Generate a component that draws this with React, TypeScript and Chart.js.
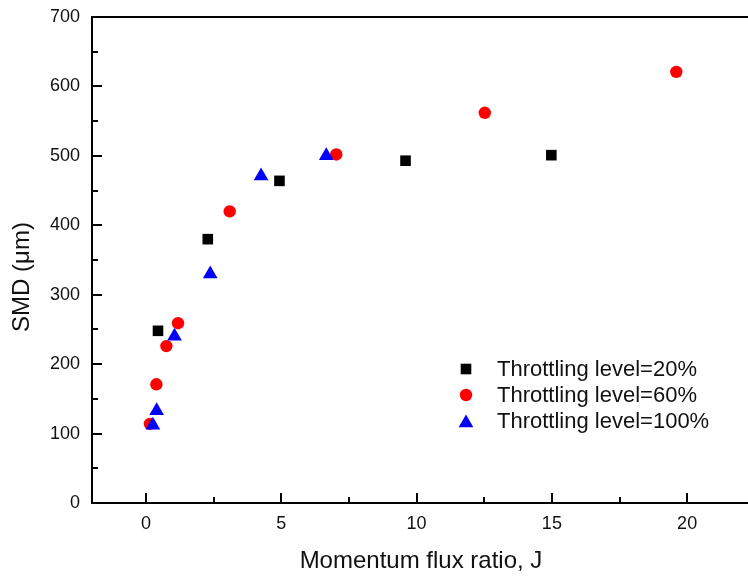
import React, { useEffect, useRef } from 'react';
import { Chart, registerables } from 'chart.js';

Chart.register(...registerables);

const FONT = "'Liberation Sans', Arial, Helvetica, sans-serif";

const xTickValues = [0, 5, 10, 15, 20];
const yTickValues = [0, 100, 200, 300, 400, 500, 600, 700];
const xTitle = 'Momentum flux ratio, J';
const yTitle = 'SMD (\u03bcm)';
const seriesLabels = ['Throttling level=20%', 'Throttling level=60%', 'Throttling level=100%'];

const j20 = [0.44, 2.28, 4.93, 9.59, 14.98];
const smd20 = [248, 380, 464, 493, 501];

const j60 = [0.14, 0.38, 0.75, 1.18, 3.09, 7.03, 12.52, 19.6];
const smd60 = [114, 171, 226, 259, 420, 502, 562, 621];

const j100 = [0.25, 0.39, 1.05, 2.37, 4.25, 6.66];
const smd100 = [112, 133, 240, 330, 471, 500];

const toPoints = (xs: number[], ys: number[]) => xs.map((x, i) => ({ x, y: ys[i] }));

function drawMarker(ctx: CanvasRenderingContext2D, style: string, x: number, y: number, r: number, color: string) {
  ctx.fillStyle = color;
  ctx.beginPath();
  if (style === 'rect') {
    const s = Math.SQRT1_2 * r;
    ctx.rect(x - s, y - s, 2 * s, 2 * s);
  } else if (style === 'triangle') {
    let rad = 0;
    ctx.moveTo(x + Math.sin(rad) * r, y - Math.cos(rad) * r);
    rad += (2 * Math.PI) / 3;
    ctx.lineTo(x + Math.sin(rad) * r, y - Math.cos(rad) * r);
    rad += (2 * Math.PI) / 3;
    ctx.lineTo(x + Math.sin(rad) * r, y - Math.cos(rad) * r);
    ctx.closePath();
  } else {
    ctx.arc(x, y, r, 0, Math.PI * 2);
  }
  ctx.fill();
}

const decorPlugin = {
  id: 'decor',
  afterDraw(chart: any) {
    const ctx: CanvasRenderingContext2D = chart.ctx;
    const { left, right, top, bottom } = chart.chartArea;
    const xs = chart.scales.x;
    const ys = chart.scales.y;
    ctx.save();
    ctx.strokeStyle = '#000';
    ctx.lineWidth = 2;
    ctx.beginPath();
    ctx.moveTo(left - 1, top);
    ctx.lineTo(right + 2, top);
    for (let v = 0; v <= xs.max; v += 2.5) {
      const px = Math.round(xs.getPixelForValue(v));
      const major = v % 5 === 0;
      ctx.moveTo(px, bottom);
      ctx.lineTo(px, bottom - (major ? 10 : 6));
    }
    for (let v = 0; v <= ys.max; v += 50) {
      const py = Math.round(ys.getPixelForValue(v));
      const major = v % 100 === 0;
      ctx.moveTo(left, py);
      ctx.lineTo(left + (major ? 10 : 6), py);
    }
    ctx.stroke();

    // axis titles
    ctx.fillStyle = '#111';
    ctx.font = `24px ${FONT}`;
    ctx.textAlign = 'center';
    ctx.textBaseline = 'middle';
    ctx.fillText(xTitle, 421, 561);
    ctx.save();
    ctx.translate(22, 277);
    ctx.rotate(-Math.PI / 2);
    ctx.fillText(yTitle, 0, 0);
    ctx.restore();

    // legend
    const lx = 466;
    const ly = [369, 395, 421];
    ctx.font = `22px ${FONT}`;
    ctx.textAlign = 'left';
    chart.data.datasets.forEach((ds: any, i: number) => {
      drawMarker(ctx, ds.pointStyle, lx, ly[i] + (ds.pointStyle === 'triangle' ? 2 : 0), ds.pointRadius, ds.backgroundColor);
      ctx.fillStyle = '#111';
      ctx.fillText(ds.label, 497, ly[i] + 1);
    });
    ctx.restore();
  },
};

export default function App() {
  const ref = useRef<HTMLCanvasElement | null>(null);
  useEffect(() => {
    if (!ref.current) return;
    const chart = new Chart(ref.current, {
      type: 'scatter',
      data: {
        datasets: [
          {
            label: seriesLabels[0],
            data: toPoints(j20, smd20),
            pointStyle: 'rect',
            pointRadius: 7.5,
            backgroundColor: '#000000',
            borderWidth: 0,
            order: 3,
          },
          {
            label: seriesLabels[1],
            data: toPoints(j60, smd60),
            pointStyle: 'circle',
            pointRadius: 6.2,
            backgroundColor: '#ff0000',
            borderWidth: 0,
            order: 2,
          },
          {
            label: seriesLabels[2],
            data: toPoints(j100, smd100),
            pointStyle: 'triangle',
            pointRadius: 8.5,
            backgroundColor: '#0000ff',
            borderWidth: 0,
            order: 1,
          },
        ],
      },
      options: {
        responsive: false,
        animation: false,
        layout: { autoPadding: false, padding: { left: 0, top: 17, right: 0, bottom: 0 } },
        plugins: { legend: { display: false }, tooltip: { enabled: false } },
        scales: {
          x: {
            type: 'linear',
            min: -2,
            max: 22.25,
            grid: { display: false, drawTicks: false },
            border: { display: true, color: '#000', width: 2 },
            afterBuildTicks: (s: any) => {
              s.ticks = xTickValues.map((v) => ({ value: v }));
            },
            afterFit: (s: any) => {
              s.height = 74;
              s.paddingLeft = 0;
              s.paddingRight = 0;
              s.paddingTop = 0;
              s.paddingBottom = 0;
            },
            ticks: {
              padding: 10,
              color: '#111',
              font: { family: FONT, size: 18 },
              maxRotation: 0,
              callback: (v: any) => String(v),
            },
          },
          y: {
            type: 'linear',
            min: 0,
            max: 700,
            grid: { display: false, drawTicks: false },
            border: { display: true, color: '#000', width: 2 },
            afterBuildTicks: (s: any) => {
              s.ticks = yTickValues.map((v) => ({ value: v }));
            },
            afterFit: (s: any) => {
              s.width = 92;
              s.paddingLeft = 0;
              s.paddingRight = 0;
              s.paddingTop = 0;
              s.paddingBottom = 0;
            },
            ticks: {
              padding: 12,
              color: '#111',
              font: { family: FONT, size: 18 },
              callback: (v: any) => String(v),
            },
          },
        },
      },
      plugins: [decorPlugin],
    });
    return () => chart.destroy();
  }, []);
  return (
    <div style={{ position: 'absolute', left: 0, top: 0, width: 748, height: 577, overflow: 'hidden' }}>
      <canvas ref={ref} width={748} height={577} style={{ display: 'block' }} />
    </div>
  );
}
